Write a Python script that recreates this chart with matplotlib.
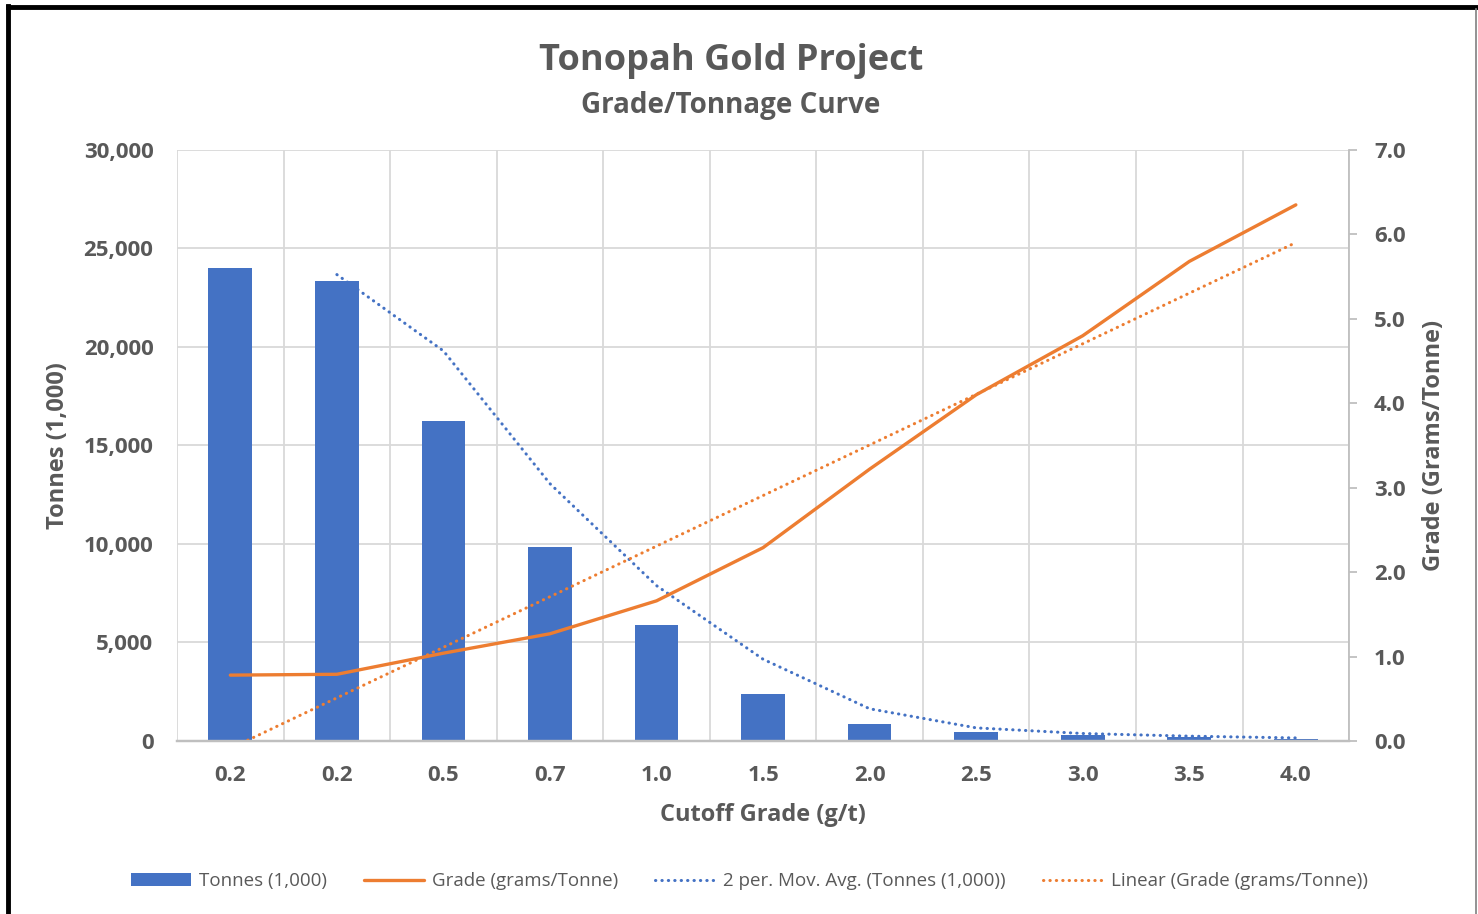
import numpy as np
import pandas as pd
from matplotlib import pyplot as plt
from matplotlib.lines import Line2D

plt.rcParams['font.family'] = ['Open Sans', 'DejaVu Sans']

# data
cutoff = ['0.2', '0.2', '0.5', '0.7', '1.0', '1.5', '2.0', '2.5', '3.0', '3.5', '4.0']
tonnes = [24000, 23350, 16250, 9870, 5900, 2400, 870, 460, 300, 190, 120]
grade = [0.78, 0.79, 1.04, 1.27, 1.66, 2.29, 3.22, 4.10, 4.80, 5.68, 6.35]

blue = '#4472C4'
orange = '#ED7D31'
grey_txt = '#595959'
dots = (0, (0.1, 2.0))

x = np.arange(len(cutoff))
mov_avg = pd.Series(tonnes).rolling(2).mean()
slope, icpt = np.polyfit(x, grade, 1)
trend = slope * x + icpt

fig = plt.figure(figsize=(14.78, 9.14), dpi=100)
ax1 = fig.add_axes([0.1198, 0.1893, 0.7930, 0.6466])
ax2 = ax1.twinx()

bars = ax1.bar(x, tonnes, width=0.41, color=blue, zorder=2)
ma_line, = ax1.plot(x, mov_avg, color=blue, lw=2.2, linestyle=dots,
                    dash_capstyle='round', zorder=3)

gr_line, = ax2.plot(x, grade, color=orange, lw=2.4, solid_capstyle='round')
tr_line, = ax2.plot(x, trend, color=orange, lw=2.2, linestyle=dots,
                    dash_capstyle='round')

ax1.set_xlim(-0.5, len(cutoff) - 0.5)
ax1.set_ylim(0, 30000)
ax2.set_ylim(0, 7)

ax1.set_xticks(x)
ax1.set_xticklabels(cutoff)
ax1.set_xticks(np.arange(-0.5, len(cutoff), 1), minor=True)
ax1.set_yticks(np.arange(0, 30001, 5000))
ax1.set_yticklabels([f'{v:,}' for v in range(0, 30001, 5000)])
ax2.set_yticks(np.arange(0, 7.1, 1))
ax2.set_yticklabels([f'{v:.1f}' for v in np.arange(0, 7.1, 1)])

ax1.set_axisbelow(True)
ax1.grid(axis='y', which='major', color='#d9d9d9', lw=1.3)
ax1.grid(axis='x', which='minor', color='#d9d9d9', lw=1.3)

for a in (ax1, ax2):
    for s in ('top', 'left'):
        a.spines[s].set_visible(False)
    a.spines['bottom'].set_color('#bfbfbf')
    a.spines['bottom'].set_linewidth(1.6)
    a.spines['right'].set_color('#bfbfbf')
    a.spines['right'].set_linewidth(1.3)
ax1.spines['right'].set_visible(False)
ax2.patch.set_visible(False)

ax1.tick_params(axis='x', which='both', length=0, pad=17, labelsize=16, labelcolor=grey_txt)
ax1.tick_params(axis='y', length=0, pad=17, labelsize=16, labelcolor=grey_txt)
ax2.tick_params(axis='y', length=6, width=1.3, color='#bfbfbf', pad=12,
                labelsize=16, labelcolor=grey_txt)
for lab in ax1.get_xticklabels() + ax1.get_yticklabels() + ax2.get_yticklabels():
    lab.set_fontweight('bold')

fig.text(0.4946, 0.9335, 'Tonopah Gold Project', ha='center', va='center',
         fontsize=26, fontweight='bold', color=grey_txt)
fig.text(0.4946, 0.885, 'Grade/Tonnage Curve', ha='center', va='center',
         fontsize=20, fontweight='bold', color=grey_txt)
fig.text(0.039, 0.513, 'Tonnes (1,000)', rotation=90, ha='center', va='center',
         fontsize=17, fontweight='bold', color=grey_txt)
fig.text(0.970, 0.513, 'Grade (Grams/Tonne)', rotation=90, ha='center', va='center',
         fontsize=17, fontweight='bold', color=grey_txt)
fig.text(0.516, 0.108, 'Cutoff Grade (g/t)', ha='center', va='center',
         fontsize=17, fontweight='bold', color=grey_txt)

# legend in the same order as the reference
handles = [bars, gr_line, ma_line, tr_line]
labels = ['Tonnes (1,000)', 'Grade (grams/Tonne)',
          '2 per. Mov. Avg. (Tonnes (1,000))', 'Linear (Grade (grams/Tonne))']
leg = fig.legend(handles, labels, loc='center', bbox_to_anchor=(0.507, 0.036),
                 ncol=4, frameon=False, fontsize=13.5, handlelength=3.2,
                 handletextpad=0.4, columnspacing=2.0)
for t in leg.get_texts():
    t.set_color(grey_txt)

# outer frame as in the screenshot
fig.add_artist(Line2D([0.0057, 0.0057], [0, 0.993], color='black', lw=3.5))
fig.add_artist(Line2D([0.0057, 1], [0.9925, 0.9925], color='black', lw=3.5))
fig.add_artist(Line2D([0.9986, 0.9986], [0, 0.99], color='#808080', lw=1.2))

fig.savefig('out.png', dpi=100)
